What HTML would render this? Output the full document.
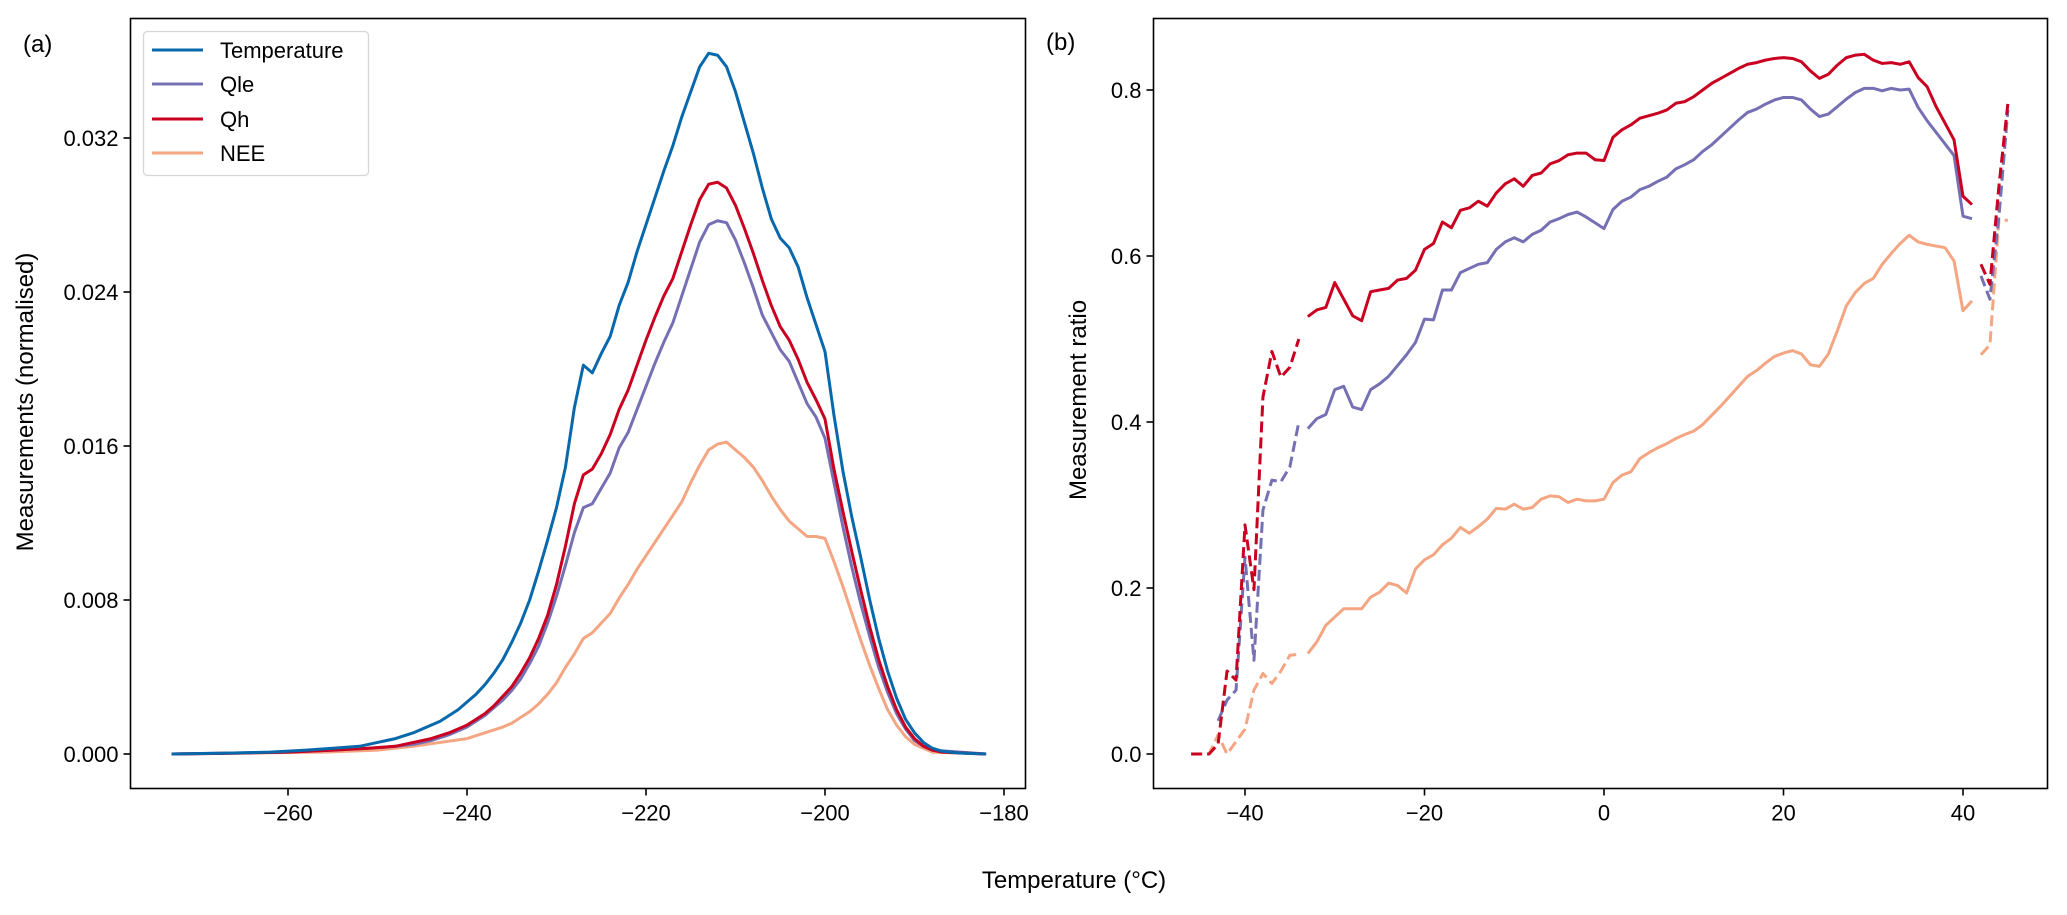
<!DOCTYPE html>
<html><head><meta charset="utf-8"><style>
html,body{margin:0;padding:0;background:#fff;}
svg{display:block;font-family:"Liberation Sans",sans-serif;}
</style></head><body>
<svg id="fig" width="2067" height="915" viewBox="0 0 2067 915" xmlns="http://www.w3.org/2000/svg">
<rect x="0" y="0" width="2067" height="915" fill="#fff"/>
<g id="pa"></g>
<g id="pb"></g>
<text x="23" y="52" font-size="24">(a)</text>
<text x="1046" y="50" font-size="24">(b)</text>
<text x="0" y="0" font-size="24" text-anchor="middle" transform="translate(33,402) rotate(-90)">Measurements (normalised)</text>
<text x="0" y="0" font-size="24" text-anchor="middle" transform="translate(1086,400) rotate(-90)">Measurement ratio</text>
<text x="1074" y="888" font-size="24" text-anchor="middle">Temperature (°C)</text>
<g>
<rect x="143.5" y="31.5" width="225" height="144" rx="4" fill="#fff" stroke="#d6d6d6" stroke-width="1.3"/>
<line x1="152" y1="50" x2="203" y2="50" stroke="#0868ac" stroke-width="3"/>
<text x="220" y="58" font-size="22">Temperature</text>
<line x1="152" y1="84" x2="203" y2="84" stroke="#7570b3" stroke-width="3"/>
<text x="220" y="92" font-size="22">Qle</text>
<line x1="152" y1="119" x2="203" y2="119" stroke="#ca0020" stroke-width="3"/>
<text x="220" y="127" font-size="22">Qh</text>
<line x1="152" y1="153" x2="203" y2="153" stroke="#f4a582" stroke-width="3"/>
<text x="220" y="161" font-size="22">NEE</text>
</g>
</svg>
<script>
// ---------- Panel (a) data ----------
const tempX = [-273,-266,-262,-258,-255,-252,-250,-248,-246,-245,-244,-243,-242,-241,-240,-239,-238,-237,-236,-235,-234,-233,-232,-231,-230,-229,-228,-227,-226,-225,-224,-223,-222,-221,-220,-219,-218,-217,-216,-215,-214,-213,-212,-211,-210,-209,-208,-207,-206,-205,-204,-203,-202,-201,-200,-199,-198,-197,-196,-195,-194,-193,-192,-191,-190,-189,-188,-187,-186,-185,-182];
const tempY = [0,0.00005,0.0001,0.0002,0.0003,0.0004,0.0006,0.0008,0.0011,0.0013,0.0015,0.0017,0.002,0.0023,0.0027,0.0031,0.0036,0.0042,0.0049,0.0058,0.0068,0.008,0.0095,0.0111,0.0128,0.0149,0.018,0.0202,0.0198,0.0208,0.0217,0.0233,0.0245,0.0261,0.0275,0.0289,0.0303,0.0316,0.0331,0.0344,0.0357,0.0364,0.0363,0.0357,0.0344,0.0328,0.0312,0.0294,0.0278,0.0268,0.0263,0.0253,0.0237,0.0223,0.0209,0.0176,0.0147,0.0123,0.0102,0.008,0.006,0.0043,0.0029,0.0018,0.0011,0.0006,0.0003,0.00015,0.0001,0.00005,0];
const qhX = [-273,-266,-260,-255,-251,-248,-246,-244,-242,-240,-239,-238,-237,-236,-235,-234,-233,-232,-231,-230,-229,-228,-227,-226,-225,-224,-223,-222,-221,-220,-219,-218,-217,-216,-215,-214,-213,-212,-211,-210,-209,-208,-207,-206,-205,-204,-203,-202,-201,-200,-199,-198,-197,-196,-195,-194,-193,-192,-191,-190,-189,-188,-187,-182];
const qhY = [0,0.00004,0.0001,0.0002,0.0003,0.0004,0.0006,0.0008,0.0011,0.0015,0.0018,0.0021,0.0025,0.003,0.0035,0.0042,0.005,0.006,0.0072,0.0088,0.0108,0.013,0.0145,0.0148,0.0156,0.0166,0.0179,0.0189,0.0202,0.0215,0.0227,0.0238,0.0247,0.0261,0.0275,0.0288,0.0296,0.0297,0.0294,0.0285,0.0273,0.026,0.0246,0.0233,0.0222,0.0215,0.0205,0.0193,0.0184,0.0174,0.0148,0.0126,0.0105,0.0085,0.0066,0.0049,0.0035,0.0023,0.0014,0.0008,0.0004,0.0002,0.0001,0];
const qleX = [-273,-260,-255,-251,-248,-246,-244,-242,-240,-239,-238,-237,-236,-235,-234,-233,-232,-231,-230,-229,-228,-227,-226,-225,-224,-223,-222,-221,-220,-219,-218,-217,-216,-215,-214,-213,-212,-211,-210,-209,-208,-207,-206,-205,-204,-203,-202,-201,-200,-199,-198,-197,-196,-195,-194,-193,-192,-191,-190,-189,-188,-182];
const qleY = [0,0.0001,0.0002,0.0003,0.0004,0.0005,0.0007,0.001,0.0014,0.0017,0.002,0.0024,0.0028,0.0033,0.0039,0.0047,0.0056,0.0068,0.0082,0.0098,0.0115,0.0128,0.013,0.0138,0.0146,0.0159,0.0167,0.0179,0.0191,0.0203,0.0214,0.0224,0.0238,0.0252,0.0266,0.0275,0.0277,0.0276,0.0267,0.0255,0.0242,0.0228,0.0219,0.021,0.0204,0.0193,0.0182,0.0175,0.0164,0.0141,0.0118,0.0097,0.0078,0.0061,0.0045,0.0032,0.0021,0.0013,0.0007,0.0004,0.0002,0];
const neeX = [-273,-256,-250,-246,-243,-240,-238,-236,-235,-234,-233,-232,-231,-230,-229,-228,-227,-226,-225,-224,-223,-222,-221,-220,-219,-218,-217,-216,-215,-214,-213,-212,-211,-210,-209,-208,-207,-206,-205,-204,-203,-202,-201,-200,-199,-198,-197,-196,-195,-194,-193,-192,-191,-190,-189,-188,-182];
const neeY = [0,0.0001,0.0002,0.0004,0.0006,0.0008,0.0011,0.0014,0.0016,0.0019,0.0022,0.0026,0.0031,0.0037,0.0045,0.0052,0.006,0.0063,0.0068,0.0073,0.0081,0.0088,0.0096,0.0103,0.011,0.0117,0.0124,0.0131,0.0141,0.015,0.0158,0.0161,0.0162,0.0158,0.0154,0.0149,0.0142,0.0134,0.0127,0.0121,0.0117,0.0113,0.0113,0.0112,0.01,0.0087,0.0073,0.0059,0.0046,0.0034,0.0023,0.0015,0.0009,0.0005,0.0003,0.0001,0];
const aXTicks = [-260,-240,-220,-200,-180];
const aYTicks = [0,0.008,0.016,0.024,0.032];
const aYTickLabels = ["0.000","0.008","0.016","0.024","0.032"];

// ---------- Panel (b) data ----------
const bQhDashStartX = [-46,-45,-44,-43,-42,-41,-40,-39,-38,-37,-36,-35,-34];
const bQhDashStartY = [0,0,0,0.012,0.10,0.089,0.276,0.198,0.43,0.485,0.454,0.466,0.50];
const bQleDashStartX = [-43,-42,-41,-40,-39,-38,-37,-36,-35,-34];
const bQleDashStartY = [0.04,0.065,0.077,0.237,0.113,0.294,0.33,0.328,0.346,0.40];
const bNeeDashStartX = [-46,-45,-44,-43,-42,-41,-40,-39,-38,-37,-36,-35,-34];
const bNeeDashStartY = [0,0,0,0.023,0,0.015,0.03,0.077,0.097,0.085,0.10,0.119,0.12];
const bSolidX = [-33,-32,-31,-30,-29,-28,-27,-26,-25,-24,-23,-22,-21,-20,-19,-18,-17,-16,-15,-14,-13,-12,-11,-10,-9,-8,-7,-6,-5,-4,-3,-2,-1,0,1,2,3,4,5,6,7,8,9,10,11,12,13,14,15,16,17,18,19,20,21,22,23,24,25,26,27,28,29,30,31,32,33,34,35,36,37,38,39,40,41];
const bQhSolidY = [0.527,0.535,0.538,0.568,0.548,0.528,0.522,0.557,0.559,0.561,0.571,0.573,0.583,0.608,0.615,0.641,0.634,0.655,0.658,0.666,0.66,0.676,0.687,0.693,0.684,0.697,0.7,0.711,0.715,0.722,0.724,0.724,0.716,0.715,0.743,0.752,0.758,0.766,0.769,0.772,0.776,0.784,0.786,0.792,0.8,0.808,0.814,0.82,0.826,0.831,0.833,0.836,0.838,0.839,0.838,0.834,0.823,0.814,0.819,0.83,0.839,0.842,0.843,0.836,0.832,0.833,0.831,0.834,0.815,0.804,0.78,0.76,0.74,0.672,0.662];
const bQleSolidY = [0.392,0.404,0.409,0.439,0.443,0.418,0.415,0.439,0.446,0.455,0.468,0.481,0.496,0.524,0.523,0.559,0.559,0.58,0.585,0.59,0.592,0.608,0.617,0.622,0.617,0.626,0.631,0.641,0.645,0.65,0.653,0.647,0.64,0.633,0.656,0.666,0.671,0.68,0.684,0.69,0.695,0.705,0.71,0.716,0.726,0.734,0.744,0.754,0.764,0.773,0.777,0.783,0.788,0.791,0.791,0.788,0.777,0.768,0.771,0.78,0.789,0.797,0.802,0.802,0.799,0.802,0.80,0.801,0.779,0.763,0.749,0.735,0.721,0.648,0.645];
const bNeeSolidY = [0.121,0.135,0.155,0.165,0.175,0.175,0.175,0.189,0.195,0.206,0.203,0.194,0.223,0.234,0.24,0.252,0.26,0.273,0.266,0.274,0.283,0.296,0.295,0.301,0.295,0.297,0.307,0.311,0.31,0.303,0.307,0.305,0.305,0.307,0.327,0.336,0.34,0.356,0.363,0.369,0.374,0.38,0.385,0.389,0.397,0.408,0.419,0.431,0.443,0.455,0.462,0.471,0.479,0.483,0.486,0.482,0.469,0.467,0.482,0.51,0.54,0.556,0.567,0.573,0.59,0.603,0.615,0.625,0.617,0.614,0.612,0.61,0.594,0.534,0.546];
const bDashEndX = [42,43,44,45];
const bQhDashEndY = [0.59,0.566,0.684,0.784];
const bQleDashEndY = [0.576,0.548,0.647,0.776];
const bNeeDashEndY = [0.481,0.493,0.643,0.643];
const bXTicks = [-40,-20,0,20,40];
const bYTicks = [0,0.2,0.4,0.6,0.8];
const bYTickLabels = ["0.0","0.2","0.4","0.6","0.8"];

const NS = "http://www.w3.org/2000/svg";
const COL = {temp:"#0868ac", qle:"#7570b3", qh:"#ca0020", nee:"#f4a582"};
function mk(tag, attrs, parent){const e=document.createElementNS(NS,tag);for(const k in attrs)e.setAttribute(k,attrs[k]);parent.appendChild(e);return e;}

const A = {l:130.5,r:1025.5,t:18.5,b:788.5};
function axA(v){return 288 + (v+260)*8.95;}
function ayA(v){return 754 - v/0.008*154;}
const B = {l:1153.5,r:2047.5,t:18.5,b:788.5};
function axB(v){return 1604 + v*8.975;}
function ayB(v){return 754 - v/0.1*83;}

function fmtMinus(v){return v<0 ? "\u2212"+Math.abs(v) : String(v);}

function drawAxes(g, box, ax, ay, xt, xl, yt, yl, pfx){
  const fr = mk("rect",{x:box.l,y:box.t,width:box.r-box.l,height:box.b-box.t,fill:"none",stroke:"#000","stroke-width":1.6},g);
  
  
  xt.forEach((v,i)=>{
    const x=ax(v);
    const t=mk("line",{x1:x,y1:box.b,x2:x,y2:box.b+7,stroke:"#000","stroke-width":1.6},g);
    
    
    const tx=mk("text",{x:x,y:box.b+32,"font-size":22,"text-anchor":"middle"},g);
    tx.textContent=xl[i];
    
    
  });
  yt.forEach((v,i)=>{
    const y=ay(v);
    const t=mk("line",{x1:box.l-7,y1:y,x2:box.l,y2:y,stroke:"#000","stroke-width":1.6},g);
    
    
    const tx=mk("text",{x:box.l-12,y:y+8,"font-size":22,"text-anchor":"end"},g);
    tx.textContent=yl[i];
    
    
  });
}
function line(g, xs, ys, ax, ay, color, dashed, name){
  const d = xs.map((x,i)=>(i?"L":"M")+ax(x).toFixed(2)+","+ay(ys[i]).toFixed(2)).join(" ");
  const p = mk("path",{d:d,fill:"none",stroke:color,"stroke-width":3,"stroke-linejoin":"round"},g);
  if(dashed) p.setAttribute("stroke-dasharray","11 5");
  
  
}

const ga=document.getElementById("pa"), gb=document.getElementById("pb");
drawAxes(ga, A, axA, ayA, aXTicks, aXTicks.map(fmtMinus), aYTicks, aYTickLabels, "a");
line(ga, neeX, neeY, axA, ayA, COL.nee, false, "series-nee-a");
line(ga, qleX, qleY, axA, ayA, COL.qle, false, "series-qle-a");
line(ga, qhX, qhY, axA, ayA, COL.qh, false, "series-qh-a");
line(ga, tempX, tempY, axA, ayA, COL.temp, false, "series-temperature-a");

drawAxes(gb, B, axB, ayB, bXTicks, bXTicks.map(fmtMinus), bYTicks, bYTickLabels, "b");
line(gb, bNeeDashStartX, bNeeDashStartY, axB, ayB, COL.nee, true, "series-nee-dashed-start");
line(gb, bQleDashStartX, bQleDashStartY, axB, ayB, COL.qle, true, "series-qle-dashed-start");
line(gb, bQhDashStartX, bQhDashStartY, axB, ayB, COL.qh, true, "series-qh-dashed-start");
line(gb, bSolidX, bNeeSolidY, axB, ayB, COL.nee, false, "series-nee-solid");
line(gb, bSolidX, bQleSolidY, axB, ayB, COL.qle, false, "series-qle-solid");
line(gb, bSolidX, bQhSolidY, axB, ayB, COL.qh, false, "series-qh-solid");
line(gb, bDashEndX, bNeeDashEndY, axB, ayB, COL.nee, true, "series-nee-dashed-end");
line(gb, bDashEndX, bQleDashEndY, axB, ayB, COL.qle, true, "series-qle-dashed-end");
line(gb, bDashEndX, bQhDashEndY, axB, ayB, COL.qh, true, "series-qh-dashed-end");
</script>
</body></html>
